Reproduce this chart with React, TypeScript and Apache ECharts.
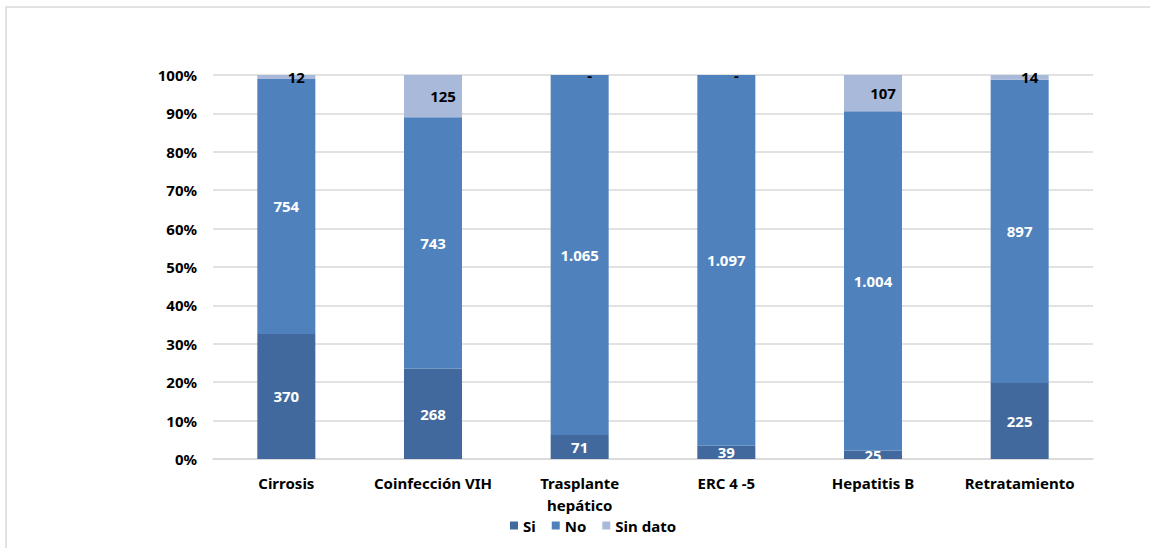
import React, { useEffect, useRef } from "react";
import * as echarts from "echarts";

const categories = ["Cirrosis", "Coinfección VIH", "Trasplante hepático", "ERC 4 -5", "Hepatitis B", "Retratamiento"];
const siValues = [370, 268, 71, 39, 25, 225];
const noValues = [754, 743, 1065, 1097, 1004, 897];
const sinDatoValues = [12, 125, 0, 0, 107, 14];
const yTicks = [0, 10, 20, 30, 40, 50, 60, 70, 80, 90, 100];

const FONT = "'Noto Sans', 'Liberation Sans', sans-serif";

const fmt = (v: number) => (v === 0 ? "-" : v.toLocaleString("de-DE"));

export default function App() {
  const ref = useRef<HTMLDivElement>(null);
  useEffect(() => {
    if (!ref.current) return;
    const chart = echarts.init(ref.current, null, { renderer: "svg" });
    const totals = categories.map((_, i) => siValues[i] + noValues[i] + sinDatoValues[i]);
    const pct = (arr: number[]) => arr.map((v, i) => ({ value: (v / totals[i]) * 100, raw: v }));
    const labelFn = (p: any) => fmt(p.data.raw);
    chart.setOption({
      animation: false,
      backgroundColor: "#ffffff",
      textStyle: { fontFamily: FONT },
      grid: { left: 213, right: 57, top: 75, bottom: 89, containLabel: false },
      graphic: [
        {
          type: "rect",
          shape: { x: 6, y: 7, width: 1300, height: 700 },
          style: { fill: "none", stroke: "#D9D9D9", lineWidth: 1.5 },
          silent: true,
        },
      ],
      legend: {
        left: 505,
        top: 513,
        itemWidth: 8,
        itemHeight: 8,
        itemGap: 16,
        icon: "rect",
        textStyle: { fontFamily: FONT, fontSize: 15, fontWeight: "bold", color: "#000", padding: [0, 0, 0, 0] },
        data: ["Si", "No", "Sin dato"],
      },
      xAxis: {
        type: "category",
        data: categories,
        axisLine: { lineStyle: { color: "#D9D9D9", width: 1.5 } },
        axisTick: { show: false },
        axisLabel: {
          fontFamily: FONT,
          fontSize: 15,
          fontWeight: "bold",
          color: "#000",
          margin: 13,
          lineHeight: 22,
          interval: 0,
          formatter: (v: string) => (v === "Trasplante hepático" ? "Trasplante\nhepático" : v),
        },
      },
      yAxis: {
        type: "value",
        min: yTicks[0],
        max: yTicks[yTicks.length - 1],
        interval: 10,
        axisLine: { show: false },
        axisTick: { show: false },
        splitLine: { lineStyle: { color: "#D9D9D9", width: 1.5 } },
        axisLabel: {
          fontFamily: FONT,
          fontSize: 15,
          fontWeight: "bold",
          color: "#000",
          margin: 16,
          formatter: "{value}%",
        },
      },
      series: [
        {
          name: "Si",
          type: "bar",
          stack: "t",
          barWidth: 58,
          data: pct(siValues),
          itemStyle: { color: "#41699D" },
          label: { show: true, position: "inside", formatter: labelFn, color: "#fff", fontFamily: FONT, fontSize: 15, fontWeight: "bold" },
        },
        {
          name: "No",
          type: "bar",
          stack: "t",
          barWidth: 58,
          data: pct(noValues),
          itemStyle: { color: "#4F81BD" },
          label: { show: true, position: "inside", formatter: labelFn, color: "#fff", fontFamily: FONT, fontSize: 15, fontWeight: "bold" },
        },
        {
          name: "Sin dato",
          type: "bar",
          stack: "t",
          barWidth: 58,
          data: pct(sinDatoValues).map((d) => (d.value === 0 ? { ...d, value: 0.0001 } : d)),
          itemStyle: { color: "#A8B9DA" },
          label: {
            show: true,
            position: "inside",
            padding: [4, 0, 0, 20],
            formatter: labelFn,
            color: "#000",
            fontFamily: FONT,
            fontSize: 15,
            fontWeight: "bold",
          },
          labelLayout: { hideOverlap: false },
        },
      ],
    });
    return () => chart.dispose();
  }, []);
  return <div ref={ref} style={{ position: "absolute", left: 0, top: 0, width: 1150, height: 548 }} />;
}
